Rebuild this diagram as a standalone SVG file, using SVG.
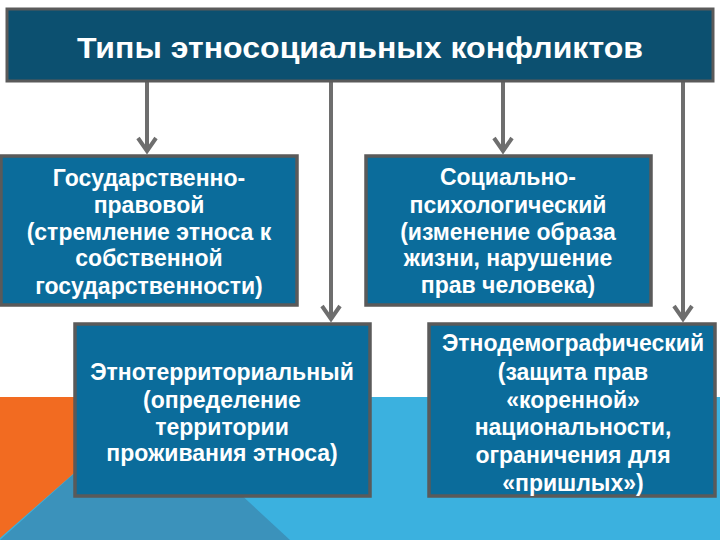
<svg xmlns="http://www.w3.org/2000/svg" width="720" height="540" viewBox="0 0 720 540">
<defs>
<style>
.box{fill:#0b6c9b;stroke:#5a5a5a;stroke-width:3.5}
.title{fill:#0c5070;stroke:#5a5a5a;stroke-width:3}
.t{font-family:"Liberation Sans",Arial,sans-serif;font-weight:bold;fill:#ffffff;text-anchor:middle;font-size:23px}
.tt{font-family:"Liberation Sans",Arial,sans-serif;font-weight:bold;fill:#ffffff;text-anchor:middle;font-size:30px}
.ln{stroke:#6e6e6e;stroke-width:4;fill:none}
.hd{stroke:#6e6e6e;stroke-width:4;fill:none;stroke-linejoin:miter}
</style>
</defs>
<rect x="0" y="0" width="720" height="540" fill="#ffffff"/>
<g id="background">
<rect x="0" y="397" width="720" height="143" fill="#3bb1df"/>
<polygon points="0,540 147,408 290,540" fill="#3b92bb"/>
<polygon points="0,397 161,397 0,538" fill="#f26b21"/>
</g>
<g id="connectors">
<line class="ln" x1="147" y1="81" x2="147" y2="150"/>
<polyline class="hd" points="138,138 147,151 156,138"/>
<line class="ln" x1="331" y1="81" x2="331" y2="318"/>
<polyline class="hd" points="322,306 331,319 340,306"/>
<line class="ln" x1="503" y1="81" x2="503" y2="150"/>
<polyline class="hd" points="494,138 503,151 512,138"/>
<line class="ln" x1="683" y1="81" x2="683" y2="318"/>
<polyline class="hd" points="674,306 683,319 692,306"/>
</g>
<g id="title">
<rect class="title" x="7" y="9" width="706" height="72"/>
<text class="tt" x="360" y="58" textLength="566" lengthAdjust="spacingAndGlyphs">Типы этносоциальных конфликтов</text>
</g>
<g id="node1">
<rect class="box" x="1" y="156" width="296" height="149"/>
<text class="t" x="149" y="186">Государственно-</text>
<text class="t" x="149" y="213">правовой</text>
<text class="t" x="149" y="240">(стремление этноса к</text>
<text class="t" x="149" y="266">собственной</text>
<text class="t" x="149" y="294">государственности)</text>
</g>
<g id="node3">
<rect class="box" x="366" y="156" width="285" height="149"/>
<text class="t" x="508" y="185">Социально-</text>
<text class="t" x="508" y="213">психологический</text>
<text class="t" x="508" y="240">(изменение образа</text>
<text class="t" x="508" y="266">жизни, нарушение</text>
<text class="t" x="508" y="293">прав человека)</text>
</g>
<g id="node2">
<rect class="box" x="75" y="324" width="295" height="172"/>
<text class="t" x="222" y="380">Этнотерриториальный</text>
<text class="t" x="222" y="408">(определение</text>
<text class="t" x="222" y="435">территории</text>
<text class="t" x="222" y="461">проживания этноса)</text>
</g>
<g id="node4">
<rect class="box" x="429" y="324" width="286" height="172"/>
<text class="t" x="573" y="351">Этнодемографический</text>
<text class="t" x="573" y="380">(защита прав</text>
<text class="t" x="573" y="408">«коренной»</text>
<text class="t" x="573" y="435">национальности,</text>
<text class="t" x="573" y="463">ограничения для</text>
<text class="t" x="573" y="491">«пришлых»)</text>
</g>
</svg>
